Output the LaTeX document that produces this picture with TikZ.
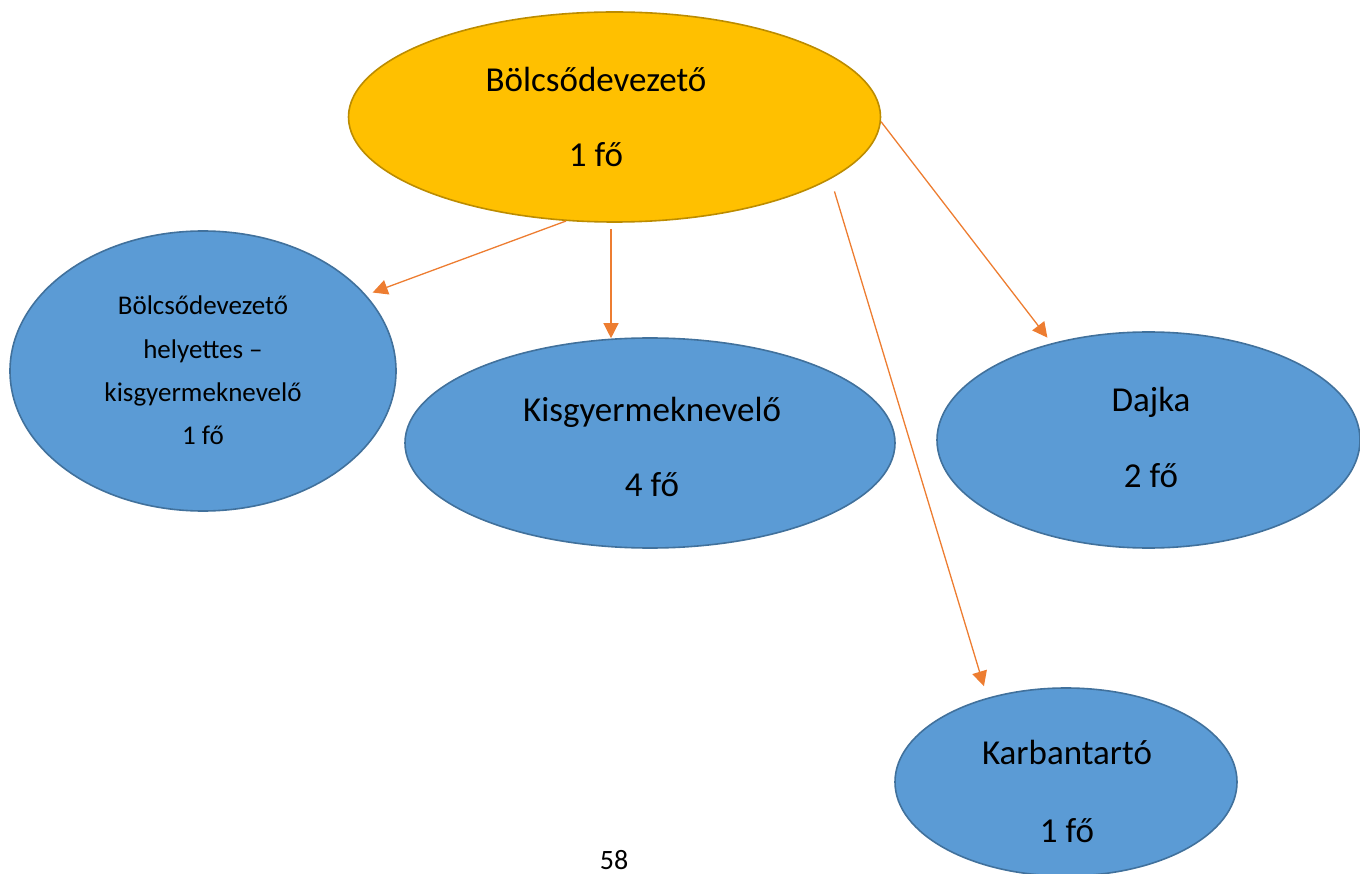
\documentclass[tikz,border=0pt]{standalone}
\usepackage{fontspec}
\setmainfont{Carlito}
\usetikzlibrary{shapes.geometric,arrows.meta,calc}
\definecolor{goldfill}{HTML}{FFC000}
\definecolor{golddraw}{HTML}{BC8C00}
\definecolor{bluefill}{HTML}{5B9BD5}
\definecolor{bluedraw}{HTML}{41719C}
\definecolor{arrorange}{HTML}{ED7D31}
\tikzset{
  oval/.style={ellipse, inner sep=0pt, line width=1.6pt},
  goldoval/.style={oval, fill=goldfill, draw=golddraw},
  blueoval/.style={oval, fill=bluefill, draw=bluedraw},
  bigtxt/.style={anchor=base, inner sep=0pt, font=\fontsize{35}{42}\selectfont},
  midtxt/.style={anchor=base, inner sep=0pt, font=\fontsize{27}{32}\selectfont},
  arr/.style={draw=arrorange, line width=1.3pt, -{Triangle[length=15pt,width=15pt]}}
}
\begin{document}
\begin{tikzpicture}[x=1pt,y=-1pt]
\useasboundingbox (0,0) rectangle (1360,874);
% ellipses
\node[goldoval, minimum width=532pt, minimum height=210pt] (top) at (614.5,117) {};
\node[blueoval, minimum width=386pt, minimum height=280pt] (left) at (203,371) {};
\node[blueoval, minimum width=490pt, minimum height=210pt] (kis) at (650,443) {};
\node[blueoval, minimum width=423pt, minimum height=216pt] (dajka) at (1148.5,440) {};
\node[blueoval, minimum width=342pt, minimum height=188pt] (karb) at (1066,782) {};
% texts
\node[bigtxt] (t1) at (596,92) {Bölcsődevezető};
\node[bigtxt] (t2) at (596,167) {1 fő};
\node[midtxt] (l1) at (203,315) {Bölcsődevezető};
\node[midtxt] (l2) at (203,359) {helyettes –};
\node[midtxt] (l3) at (203,402) {kisgyermeknevelő};
\node[midtxt] (l4) at (203,444) {1 fő};
\node[bigtxt] (k1) at (652,421) {Kisgyermeknevelő};
\node[bigtxt] (k2) at (652,496) {4 fő};
\node[bigtxt] (d1) at (1151,412) {Dajka};
\node[bigtxt] (d2) at (1151,487) {2 fő};
\node[bigtxt] (c1) at (1067,764) {Karbantartó};
\node[bigtxt] (c2) at (1067,842) {1 fő};
\node[anchor=base, inner sep=0pt, font=\fontsize{28}{33}\selectfont] (page) at (614,869) {58};
% connectors
\draw[arr, shorten >=7pt] (top.-115.5) -- (left.25);
\draw[arr] ($(top.south)+(-3.5,6)$) -- ($(kis.north)+(-39,1)$);
\draw[arr, shorten <=13pt, shorten >=12pt] (top.-16) -- (karb.133);
\draw[arr, shorten >=7pt] (top.-1) -- (dajka.135);
\end{tikzpicture}
\end{document}
